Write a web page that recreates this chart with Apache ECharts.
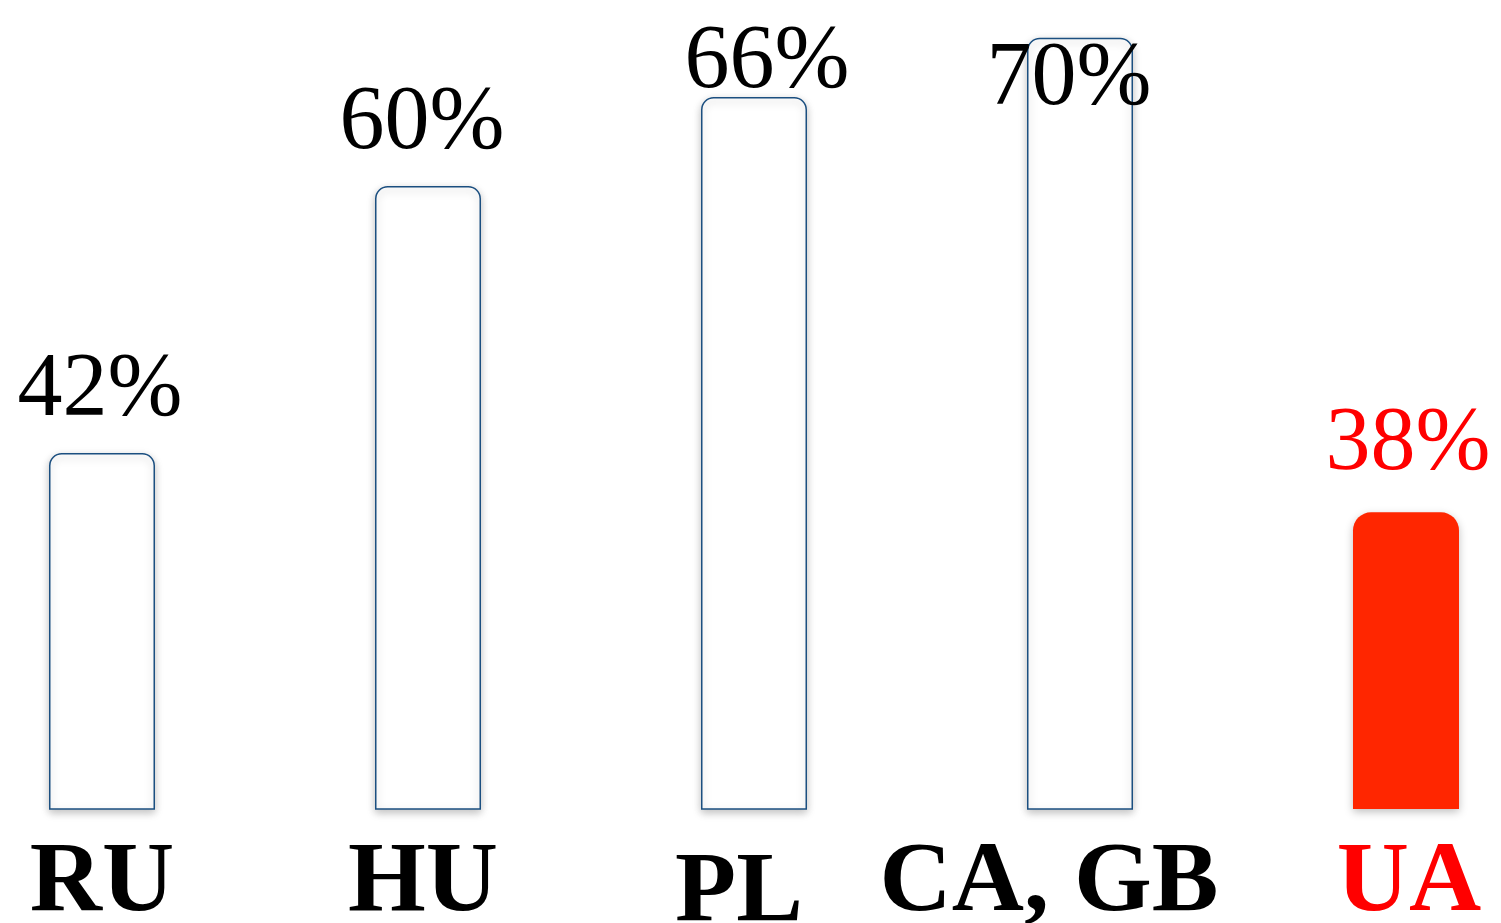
<!DOCTYPE html>
<html>
<head>
<meta charset="utf-8">
<script src="https://cdn.jsdelivr.net/npm/echarts@6/dist/echarts.min.js"></script>
<style>html,body{margin:0;padding:0;background:#fff;}#c{width:1501px;height:923px;}</style>
</head>
<body>
<div id="c"></div>
<script>
const categories = ['RU', 'HU', 'PL', 'CA, GB', 'UA'];
const values = [42, 60, 66, 70, 38];
const highlightIndex = 4;

const chart = echarts.init(document.getElementById('c'));
const labelOffsets = [[-2, 0], [-6, 0], [13, 0], [-11, 0], [2, 0]];
const labelDistances = [17, 17, -11, -2, 22];
const catPadding = [[0, 0, 0, 0], [0, 10, 0, 0], [10, 30, 0, 0], [0, 62, 0, 0], [0, 0, 0, 6]];

const seriesData = values.map((v, i) => {
  const hi = i === highlightIndex;
  const item = {
    value: v,
    itemStyle: hi ? {
      color: '#ff2600', borderWidth: 0, borderRadius: [18, 18, 0, 0]
    } : {
      color: '#ffffff', borderColor: '#1b4f80', borderWidth: 1.5, borderRadius: [12, 12, 0, 0]
    },
    label: {
      color: hi ? '#ff0000' : '#000000',
      offset: labelOffsets[i],
      distance: labelDistances[i]
    }
  };
  if (i === 3) {
    item.label.position = 'insideTop';
  }
  return item;
});

const rich = {};
categories.forEach((c, i) => {
  rich['s' + i] = {
    color: i === highlightIndex ? '#ff0000' : '#000000',
    fontFamily: 'Liberation Serif',
    fontWeight: 'bold',
    fontSize: 100,
    padding: catPadding[i]
  };
});

chart.setOption({
  animation: false,
  grid: { left: 102, right: 95, top: 8, bottom: 114, containLabel: false, outerBoundsMode: 'none' },
  xAxis: {
    type: 'category',
    data: categories,
    boundaryGap: false,
    axisLine: { show: false },
    axisTick: { show: false },
    splitLine: { show: false },
    axisLabel: {
      interval: 0,
      margin: 25,
      fontFamily: 'Liberation Serif',
      fontWeight: 'bold',
      fontSize: 100,
      formatter: (v, i) => '{s' + i + '|' + v + '}',
      rich: rich
    }
  },
  yAxis: {
    type: 'value',
    min: 18,
    max: 72,
    show: false,
    splitLine: { show: false }
  },
  series: [{
    type: 'bar',
    barWidth: 106,
    data: seriesData,
    itemStyle: {
      shadowBlur: 9,
      shadowColor: 'rgba(0,0,0,0.25)',
      shadowOffsetY: 3
    },
    label: {
      show: true,
      position: 'top',
      fontFamily: 'Liberation Serif',
      fontSize: 90,
      formatter: p => p.value + '%'
    }
  }]
});
</script>
</body>
</html>
